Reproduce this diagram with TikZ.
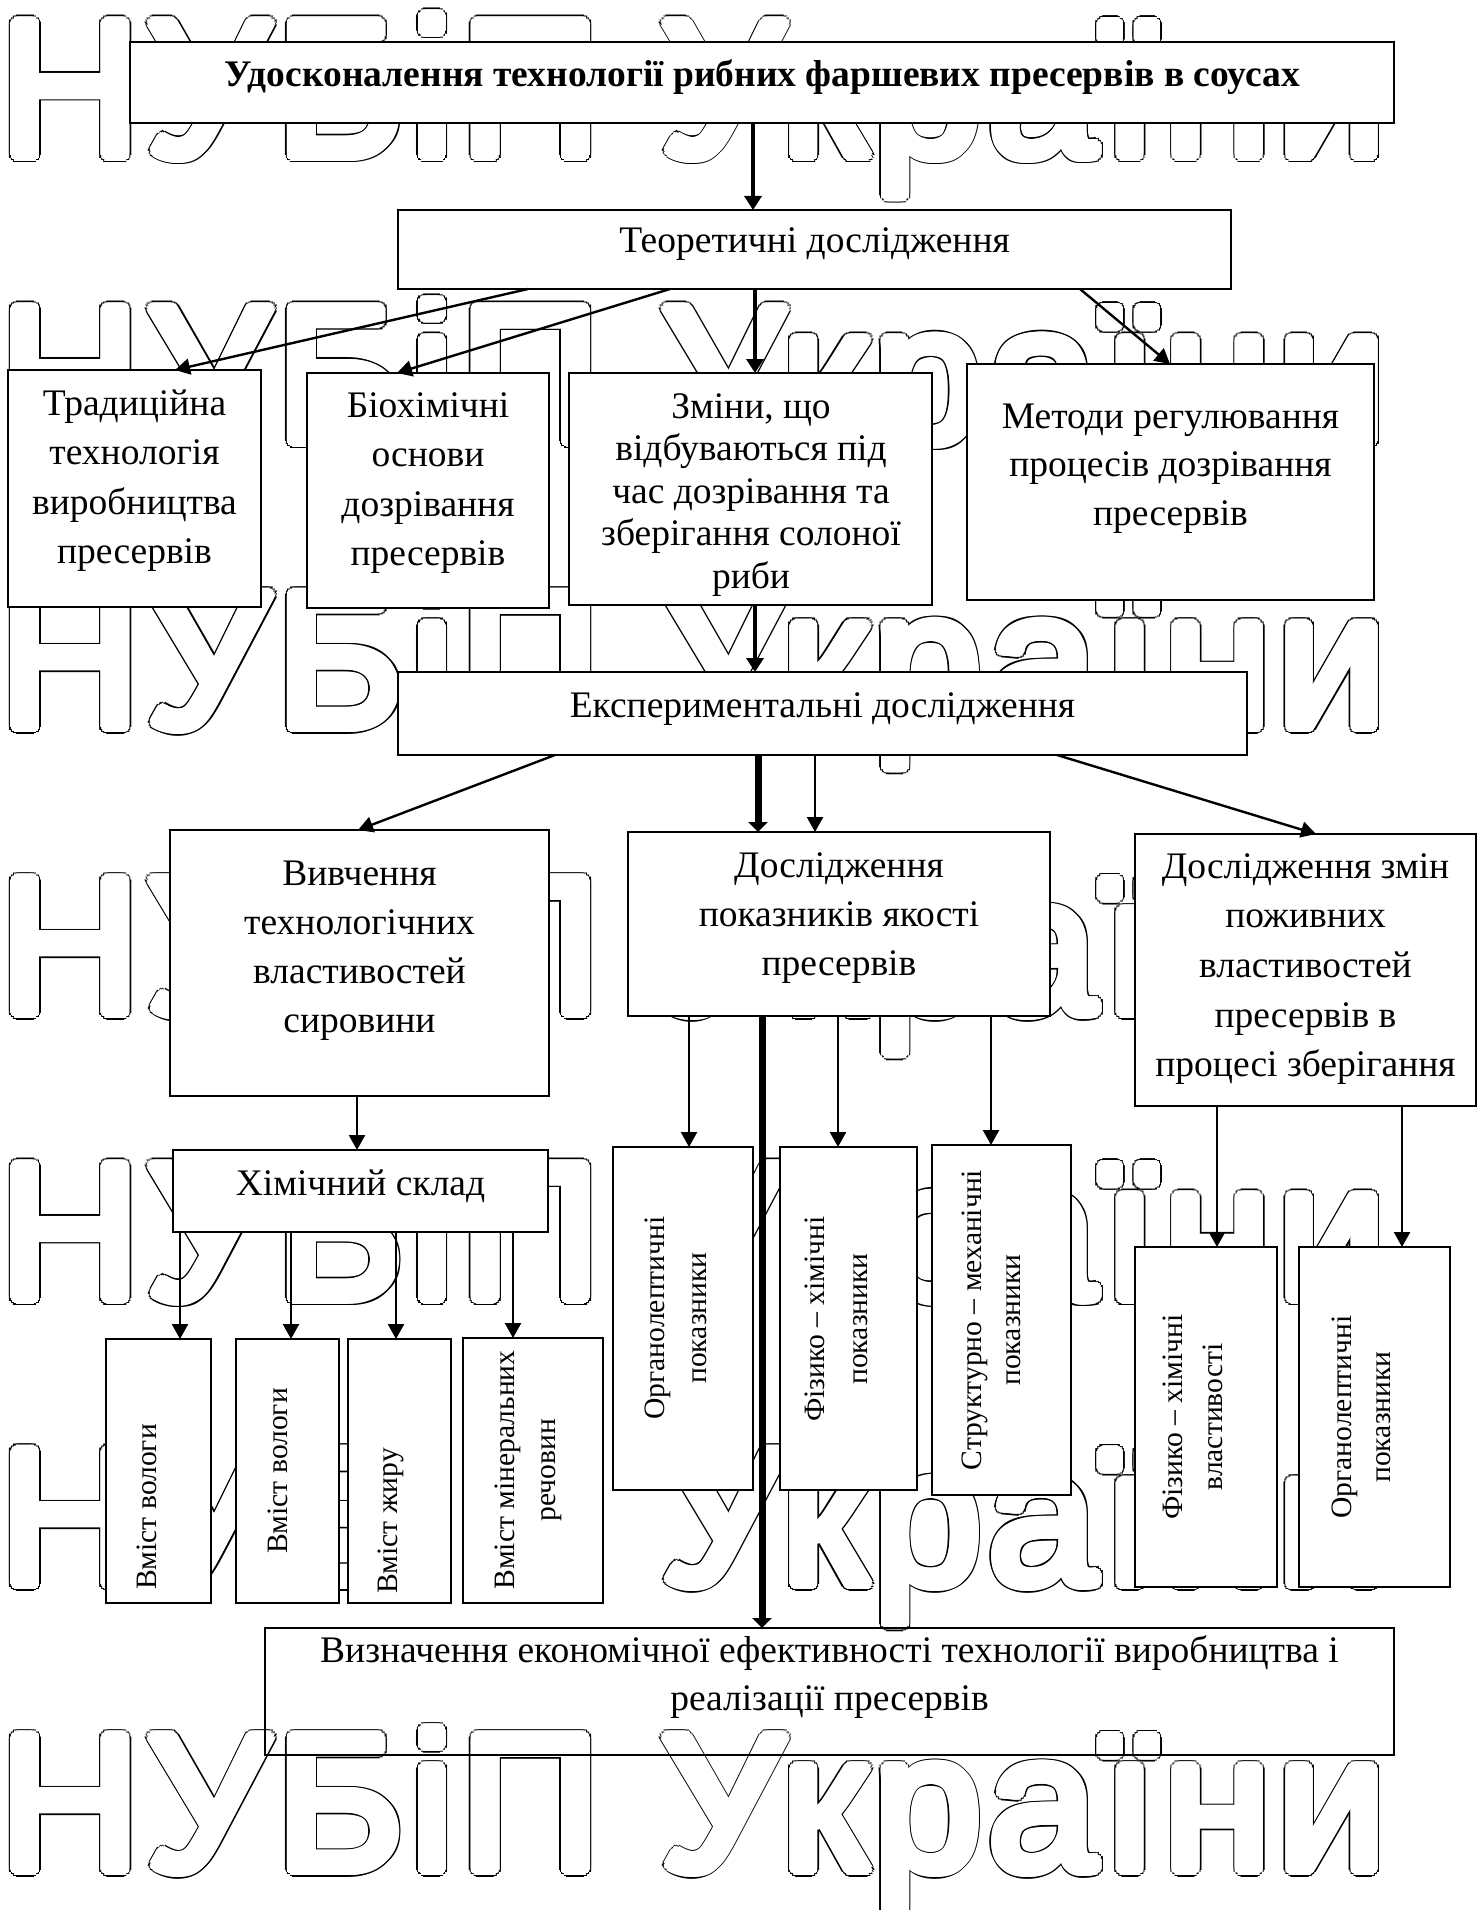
\documentclass[tikz,border=0pt]{standalone}
\usepackage{fontspec}
\setmainfont{Liberation Serif}
\newfontfamily\wmfont[LetterSpace=3.5]{Liberation Sans}
\usetikzlibrary{arrows.meta}
\newcommand\bx[6][]{\node[box,#1,minimum width=#5pt-#3pt,minimum height=#6pt-#4pt] (#2) at ({(#3+#5)/2},{(#4+#6)/2}) {};}
\newcommand\hlines[6][]{\foreach \myline [count=\k from 0] in {#6}{\node[tx,#1] (#2-\k) at (#3,{#4+#5*\k}) {\myline};}}
\newcommand\rlines[3]{\foreach \xx/\mytext [count=\k from 0] in {#3}{\node[rtx] (#1-\k) at (\xx,#2) {\mytext};}}
\begin{document}
\begin{tikzpicture}[x=1pt,y=-1pt,
 box/.style={draw, line width=2.4pt, fill=white, inner sep=0pt, outer sep=0pt},
 tx/.style={font=\fontsize{37.5}{37.5}\selectfont, inner sep=0pt, anchor=base},
 rtx/.style={font=\fontsize{29.6}{29.6}\selectfont, inner sep=0pt, anchor=base, rotate=90},
 thin/.style={line width=2.4pt, -{Triangle[length=15pt,width=16pt]}},
 mid/.style={line width=4pt, -{Triangle[length=14pt,width=17pt]}},
 thick/.style={line width=7pt, -{Triangle[length=10pt,width=19pt]}},
 wm/.style={font=\wmfont\fontsize{194}{194}\selectfont, inner sep=0pt, anchor=base west}]
\useasboundingbox (0,0) rectangle (1479,1910);
\fill[white] (0,0) rectangle (1479,1910);
% watermark: outlined (widened) text made of a black halo and a white core
\foreach \r in {0,...,6}{
  \pgfmathsetmacro\yb{156+285.67*\r}
  \foreach \a [count=\i] in {0,22.5,...,337.5}
    \node[wm,text=black] (wb\r-\i) at ({0+7*cos(\a)},{\yb+7*sin(\a)}) {НУБіП України};
  \foreach \a [count=\i] in {0,22.5,...,337.5}
    \node[wm,text=white] (ww\r-\i) at ({0+5.5*cos(\a)},{\yb+5.5*sin(\a)}) {НУБіП України};
  \node[wm,text=white] (wc\r) at (0,\yb) {НУБіП України};
}
% boxes
\bx{title}{130}{42}{1394}{123}
\bx{theo}{398}{210}{1231}{289}
\bx{trad}{8}{370}{261}{607}
\bx{bio}{307}{373}{549}{608}
\bx{zmin}{569}{373}{932}{605}
\bx{met}{967}{364}{1374}{600}
\bx{exp}{398}{672}{1247}{755}
\bx{vyv}{170}{830}{549}{1096}
\bx{dpok}{628}{832}{1050}{1016}
\bx{dzmin}{1135}{834}{1476}{1106}
\bx{khim}{173}{1150}{548}{1232}
\bx{va}{106}{1339}{211}{1603}
\bx{vb}{236}{1339}{339}{1603}
\bx{vc}{348}{1339}{451}{1603}
\bx{vd}{463}{1338}{603}{1603}
\bx{orga}{613}{1147}{753}{1490}
\bx{fiza}{780}{1147}{917}{1490}
\bx{strk}{932}{1145}{1071}{1495}
\bx{fizb}{1135}{1247}{1277}{1587}
\bx{orgb}{1299}{1247}{1450}{1587}
\bx[fill=none,line width=1.6pt]{vyzn}{265}{1628}{1394}{1755}
% texts
\node[tx,font=\bfseries\fontsize{37.5}{37.5}\selectfont] (title-t) at (762,87) {Удосконалення технології рибних фаршевих пресервів в соусах};
\hlines{theo-t}{814.5}{253}{0}{Теоретичні дослідження}
\hlines{trad-t}{134.5}{415}{49.5}{Традиційна,технологія,виробництва,пресервів}
\hlines{bio-t}{428}{417}{49.5}{Біохімічні,основи,дозрівання,пресервів}
\hlines{zmin-t}{751}{418}{42.5}{{Зміни, що},відбуваються під,час дозрівання та,зберігання солоної,риби}
\hlines{met-t}{1170.5}{428}{48.5}{Методи регулювання,процесів дозрівання,пресервів}
\hlines{exp-t}{822.5}{717}{0}{Експериментальні дослідження}
\hlines{vyv-t}{359.5}{885}{49.3}{Вивчення,технологічних,властивостей,сировини}
\hlines{dpok-t}{839}{877}{49}{Дослідження,показників якості,пресервів}
\hlines{dzmin-t}{1305.5}{878}{49.7}{Дослідження змін,поживних,властивостей,пресервів в,процесі зберігання}
\hlines{khim-t}{360.5}{1195}{0}{Хімічний склад}
\hlines{vyzn-t}{829.5}{1662}{48}{Визначення економічної ефективності технології виробництва і,реалізації пресервів}
\rlines{va-t}{1507}{156/Вміст вологи}
\rlines{vb-t}{1471}{287/Вміст вологи}
\rlines{vc-t}{1521}{397/Вміст жиру}
\rlines{vd-t}{1470}{514/Вміст мінеральних,555/речовин}
\rlines{orga-t}{1318}{664/Органолептичні,706/показники}
\rlines{fiza-t}{1319}{824/Фізико – хімічні,867/показники}
\rlines{strk-t}{1320}{981/Структурно – механічні,1020/показники}
\rlines{fizb-t}{1417}{1182/Фізико – хімічні,1222/властивості}
\rlines{orgb-t}{1417}{1351/Органолептичні,1390/показники}
% connectors
\draw[mid] (title.south -| 753,0) -- (theo.north -| 753,0);
\draw[thin] (theo.south -| 528,0) -- (trad.north -| 175,0);
\draw[thin] (theo.south -| 670,0) -- (bio.north -| 397,0);
\draw[mid] (theo.south -| 755,0) -- (zmin.north -| 755,0);
\draw[thin] (theo.south -| 1080,0) -- (met.north -| 1170,0);
\draw[mid] (zmin.south -| 755,0) -- (exp.north -| 755,0);
\draw[thin] (exp.south -| 555,0) -- (vyv.north -| 358,0);
\draw[thick] (exp.south -| 758,0) -- (dpok.north -| 758,0);
\draw[thin] (exp.south -| 815,0) -- (dpok.north -| 815,0);
\draw[thin] (exp.south -| 1057,0) -- (dzmin.north -| 1316,0);
\draw[thin] (vyv.south -| 357,0) -- (khim.north -| 357,0);
\draw[thin] (khim.south -| 180,0) -- (va.north -| 180,0);
\draw[thin] (khim.south -| 291,0) -- (vb.north -| 291,0);
\draw[thin] (khim.south -| 396,0) -- (vc.north -| 396,0);
\draw[thin] (khim.south -| 513,0) -- (vd.north -| 513,0);
\draw[thin] (dpok.south -| 689,0) -- (orga.north -| 689,0);
\draw[thin] (dpok.south -| 838,0) -- (fiza.north -| 838,0);
\draw[thin] (dpok.south -| 991,0) -- (strk.north -| 991,0);
\draw[thick] (dpok.south -| 762,0) -- (vyzn.north -| 762,0);
\draw[thin] (dzmin.south -| 1217,0) -- (fizb.north -| 1217,0);
\draw[thin] (dzmin.south -| 1402,0) -- (orgb.north -| 1402,0);
\end{tikzpicture}
\end{document}
